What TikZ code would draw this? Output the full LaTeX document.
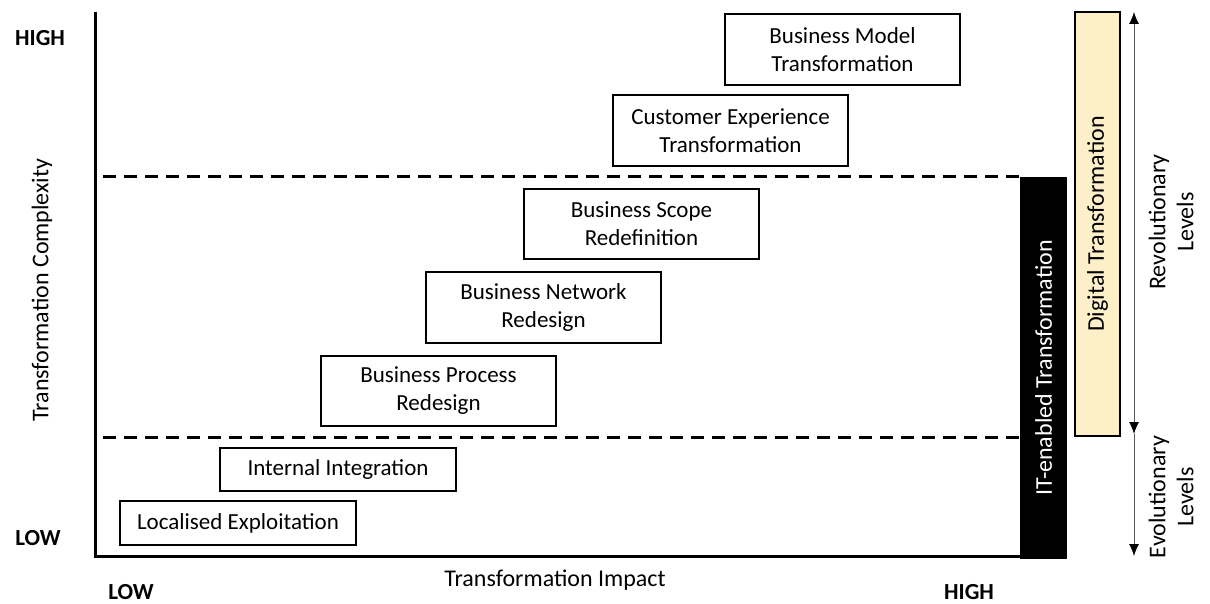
\documentclass[tikz,border=0pt]{standalone}
\usepackage{fontspec}
\setmainfont{Carlito}
\usetikzlibrary{arrows.meta}
\definecolor{dtfill}{HTML}{FDF0C9}
\begin{document}
\begin{tikzpicture}[x=1pt,y=-1pt,
  stage/.style={draw, line width=1.3pt, minimum width=235pt, minimum height=71pt,
    align=center, inner sep=0pt, font=\fontsize{23}{28}\selectfont},
  slim/.style={stage, minimum height=44pt},
  axislbl/.style={font=\fontsize{24}{28}\selectfont},
  endlbl/.style={font=\fontsize{23}{26}\selectfont\bfseries},
  axisline/.style={line width=3pt},
  level/.style={line width=3pt, dash pattern=on 13pt off 8pt},
  head/.tip={Latex[length=12pt,width=10pt,black]},
  tip/.style={-head, line width=0.9pt, draw=black!65}
]
\useasboundingbox (0,0) rectangle (1210,604);

% axes
\coordinate (ytop) at (95,12);
\coordinate (orig) at (95,556);
\coordinate (xend) at (1020,556);
\draw[axisline] (ytop) -- (orig) -- (xend);

% level separators
\coordinate (d1a) at (103,177); \coordinate (d1b) at (1020,177);
\coordinate (d2a) at (103,437); \coordinate (d2b) at (1020,437);
\draw[level] (d1a) -- (d1b);
\draw[level] (d2a) -- (d2b);

% axis labels
\node[endlbl] (yhigh) at (40,38) {HIGH};
\node[endlbl] (ylow) at (38,538) {LOW};
\node[endlbl] (xlow) at (131,592) {LOW};
\node[endlbl] (xhigh) at (969,592) {HIGH};
\node[axislbl, rotate=90] (ylab) at (42,290) {Transformation Complexity};
\node[axislbl] (xlab) at (555,580) {Transformation Impact};

% transformation stages
\node[stage] (bmt) at (842.5,49.5) {Business Model\\Transformation};
\node[stage] (cet) at (730.5,130.5) {Customer Experience\\Transformation};
\node[stage, minimum height=70pt] (bsr) at (641.5,224) {Business Scope\\Redefinition};
\node[stage] (bnr) at (543.5,307.5) {Business Network\\Redesign};
\node[stage, minimum height=70pt] (bpr) at (438.5,391) {Business Process\\Redesign};
\node[slim, minimum width=236pt, minimum height=43pt] (ii) at (338,469.5) {Internal Integration};
\node[slim, minimum width=236pt] (le) at (238,523) {Localised Exploitation};

% side bars
\node[fill=black, minimum width=47pt, minimum height=382pt, inner sep=0pt] (itbar) at (1043.5,368) {};
\node[rotate=90, text=white, axislbl] (itlab) at (itbar.center) {IT-enabled Transformation};
\node[draw, line width=1.3pt, fill=dtfill, minimum width=45pt, minimum height=424pt, inner sep=0pt] (dtbar) at (1097.5,224) {};
\node[rotate=90, axislbl] (dtlab) at (dtbar.center) {Digital Transformation};

% level arrows
\coordinate (atop) at (1134,12);
\coordinate (amid) at (1134,434);
\coordinate (abot) at (1134,556);
\draw[tip, head-head] (amid) -- (atop);
\draw[tip] (amid) -- (abot);
\node[rotate=90, axislbl, align=center] (rev) at (1171,222) {Revolutionary\\Levels};
\node[rotate=90, axislbl, align=center] (evo) at (1171,497) {Evolutionary\\Levels};
\end{tikzpicture}
\end{document}
